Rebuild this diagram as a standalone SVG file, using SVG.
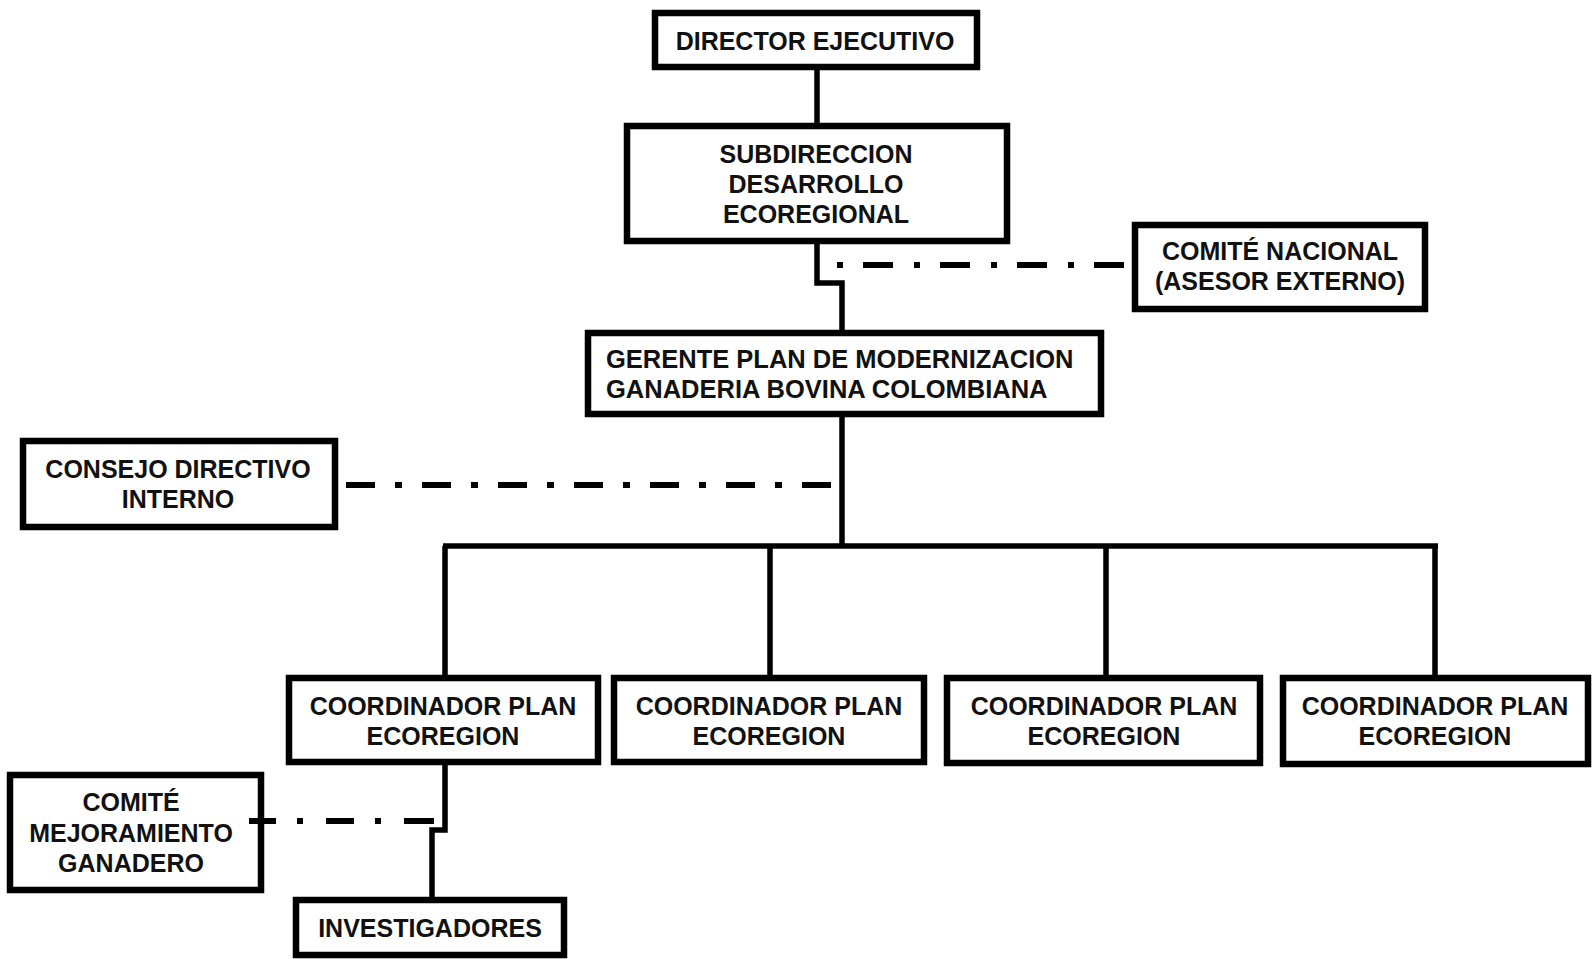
<svg xmlns="http://www.w3.org/2000/svg" width="1592" height="959" viewBox="0 0 1592 959">
<style>
.box{fill:#fff;stroke:#000;stroke-width:6.5}
.ln{fill:none;stroke:#000;stroke-width:5.5;stroke-linejoin:miter}
.dd{fill:none;stroke:#000;stroke-width:6;stroke-dasharray:29 20 7 20}
.t{font-family:"Liberation Sans",Arial,sans-serif;font-weight:bold;font-size:25px;fill:#111;text-anchor:middle}
.tl{text-anchor:start;font-size:25.5px}
</style>
<rect width="1592" height="959" fill="#fff"/>
<g id="n-director"><rect class="box" x="655" y="13" width="322" height="54"/><text class="t" x="815" y="50">DIRECTOR EJECUTIVO</text></g>
<g id="n-subdireccion"><rect class="box" x="627" y="126" width="380" height="115"/><text class="t" x="816" y="163">SUBDIRECCION</text><text class="t" x="816" y="193">DESARROLLO</text><text class="t" x="816" y="223">ECOREGIONAL</text></g>
<g id="n-comite-nacional"><rect class="box" x="1135" y="225" width="290" height="84"/><text class="t" x="1280" y="260">COMITÉ NACIONAL</text><text class="t" x="1280" y="290">(ASESOR EXTERNO)</text></g>
<g id="n-gerente"><rect class="box" x="588" y="333" width="513" height="81"/><text class="t tl" x="606" y="368">GERENTE PLAN DE MODERNIZACION</text><text class="t tl" x="606" y="398">GANADERIA BOVINA COLOMBIANA</text></g>
<g id="n-consejo"><rect class="box" x="23" y="441" width="312" height="86"/><text class="t" x="178" y="478">CONSEJO DIRECTIVO</text><text class="t" x="178" y="508">INTERNO</text></g>
<g id="n-coord1"><rect class="box" x="289" y="678" width="309" height="84"/><text class="t" x="443" y="715">COORDINADOR PLAN</text><text class="t" x="443" y="745">ECOREGION</text></g>
<g id="n-coord2"><rect class="box" x="614" y="678" width="310" height="84"/><text class="t" x="769" y="715">COORDINADOR PLAN</text><text class="t" x="769" y="745">ECOREGION</text></g>
<g id="n-coord3"><rect class="box" x="947" y="678" width="313" height="85"/><text class="t" x="1104" y="715">COORDINADOR PLAN</text><text class="t" x="1104" y="745">ECOREGION</text></g>
<g id="n-coord4"><rect class="box" x="1283" y="678" width="305" height="86"/><text class="t" x="1435" y="715">COORDINADOR PLAN</text><text class="t" x="1435" y="745">ECOREGION</text></g>
<g id="n-comite-mejoramiento"><rect class="box" x="10" y="775" width="251" height="115"/><text class="t" x="131" y="811">COMITÉ</text><text class="t" x="131" y="842">MEJORAMIENTO</text><text class="t" x="131" y="872">GANADERO</text></g>
<g id="n-investigadores"><rect class="box" x="296" y="900" width="268" height="55"/><text class="t" x="430" y="937">INVESTIGADORES</text></g>
<g id="connectors">
<path class="ln" d="M817 67V126"/>
<path class="ln" d="M817 241V283H842V333"/>
<path class="ln" d="M842 414V546"/>
<path class="ln" d="M443 546H1438"/>
<path class="ln" d="M445 546V678M770 546V678M1106 546V678M1435 546V678"/>
<path class="ln" d="M445 762V830H432V900"/>
<path class="dd" d="M837 265H1127" style="stroke-dasharray:6 20 30 21"/>
<path class="dd" d="M346 485H840"/>
<path class="dd" d="M249 821H434" style="stroke-dasharray:27 21 6 23 28 21 6 23 30 20"/>
</g>
</svg>
